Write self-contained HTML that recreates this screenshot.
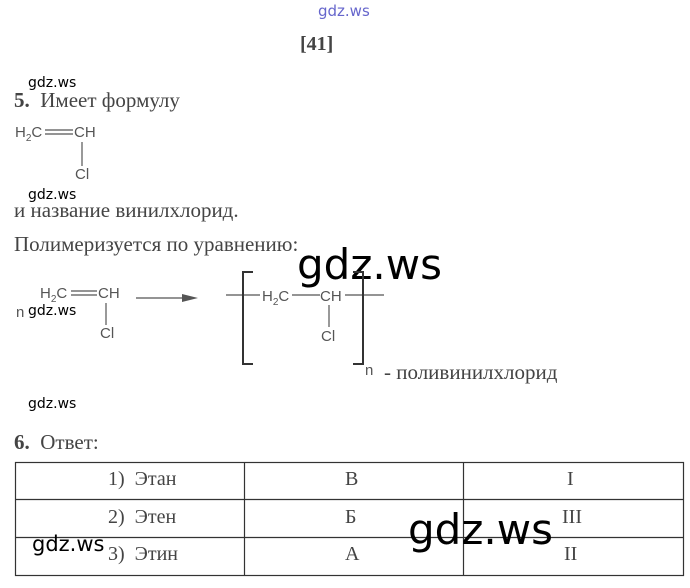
<!DOCTYPE html>
<html><head><meta charset="utf-8"><style>
body{margin:0;width:690px;height:588px;background:#fff;position:relative;overflow:hidden;font-family:"Liberation Serif",serif;color:#333}
.a{position:absolute;white-space:nowrap}
.s{font-family:"Liberation Sans","DejaVu Sans",sans-serif;color:#555;font-size:15px}
.w{font-family:"DejaVu Sans","Liberation Sans",sans-serif;color:#000}
.t{font-size:21px;color:#444}
.u{font-size:20px;color:#444}
</style></head><body>
<div class="a" style="left:318px;top:2px;font-family:'DejaVu Sans',sans-serif;font-size:15px;color:#6666cc">gdz.ws</div>
<div class="a" style="left:300px;top:33px;font-size:20px;font-weight:bold;color:#444">[41]</div>
<div class="a w" style="left:28px;top:75px;font-size:14px">gdz.ws</div>
<div class="a t" style="left:14px;top:88px"><b>5.</b>&nbsp; Имеет формулу</div>
<div class="a s" style="left:15px;top:124px">H<sub style="font-size:10px">2</sub>C</div>
<div class="a s" style="left:74px;top:124px">CH</div>
<div class="a s" style="left:75px;top:166px">Cl</div>
<div class="a w" style="left:28px;top:187px;font-size:14px">gdz.ws</div>
<div class="a t" style="left:14px;top:198px">и название винилхлорид.</div>
<div class="a t" style="left:14px;top:232px">Полимеризуется по уравнению:</div>
<div class="a w" style="left:297px;top:240px;font-size:42px">gdz.ws</div>
<div class="a s" style="left:40px;top:285px">H<sub style="font-size:10px">2</sub>C</div>
<div class="a s" style="left:98px;top:285px">CH</div>
<div class="a s" style="left:100px;top:325px">Cl</div>
<div class="a s" style="left:16px;top:304px">n</div>
<div class="a w" style="left:28px;top:303px;font-size:14px">gdz.ws</div>
<div class="a s" style="left:262px;top:288px">H<sub style="font-size:10px">2</sub>C</div>
<div class="a s" style="left:320px;top:288px">CH</div>
<div class="a s" style="left:321px;top:328px">Cl</div>
<div class="a s" style="left:365px;top:362px">n</div>
<div class="a t" style="left:384px;top:360px">- поливинилхлорид</div>
<div class="a w" style="left:28px;top:396px;font-size:14px">gdz.ws</div>
<div class="a t" style="left:14px;top:430px"><b>6.</b>&nbsp; Ответ:</div>
<svg class="a" style="left:0;top:0" width="690" height="588">
<g stroke="#555" stroke-width="1.2" fill="none">
<line x1="45" y1="130" x2="73" y2="130"/><line x1="45" y1="134" x2="73" y2="134"/>
<line x1="82" y1="142" x2="82" y2="166"/>
<line x1="71" y1="291" x2="97" y2="291"/><line x1="71" y1="295" x2="97" y2="295"/>
<line x1="106" y1="303" x2="106" y2="325"/>
<line x1="136" y1="298" x2="190" y2="298"/>
<line x1="226" y1="295" x2="260" y2="295"/><line x1="292" y1="295" x2="320" y2="295"/>
<line x1="345" y1="295" x2="384" y2="295"/><line x1="329" y1="305" x2="329" y2="327"/>
</g>
<polygon points="198,298 182,294 182,302" fill="#555"/>
<g stroke="#333" stroke-width="2" fill="none">
<polyline points="253,272 243,272 243,364 253,364"/>
<polyline points="353,272 363,272 363,364 353,364"/>
</g>
<g stroke="#333" stroke-width="1.2" fill="none">
<rect x="15.5" y="462.5" width="668" height="113"/>
<line x1="15" y1="499.5" x2="684" y2="499.5"/><line x1="15" y1="537.5" x2="684" y2="537.5"/>
<line x1="244.5" y1="462" x2="244.5" y2="576"/><line x1="463.5" y1="462" x2="463.5" y2="576"/>
</g>
</svg>
<div class="a u" style="left:108px;top:468px">1)&nbsp; Этан</div>
<div class="a u" style="left:108px;top:506px">2)&nbsp; Этен</div>
<div class="a u" style="left:108px;top:543px">3)&nbsp; Этин</div>
<div class="a u" style="left:345px;top:468px">В</div>
<div class="a u" style="left:345px;top:506px">Б</div>
<div class="a u" style="left:345px;top:543px">А</div>
<div class="a u" style="left:567px;top:468px">I</div>
<div class="a u" style="left:562px;top:506px">III</div>
<div class="a u" style="left:564px;top:543px">II</div>
<div class="a w" style="left:32px;top:532px;font-size:21px">gdz.ws</div>
<div class="a w" style="left:408px;top:505px;font-size:42px">gdz.ws</div>
</body></html>
